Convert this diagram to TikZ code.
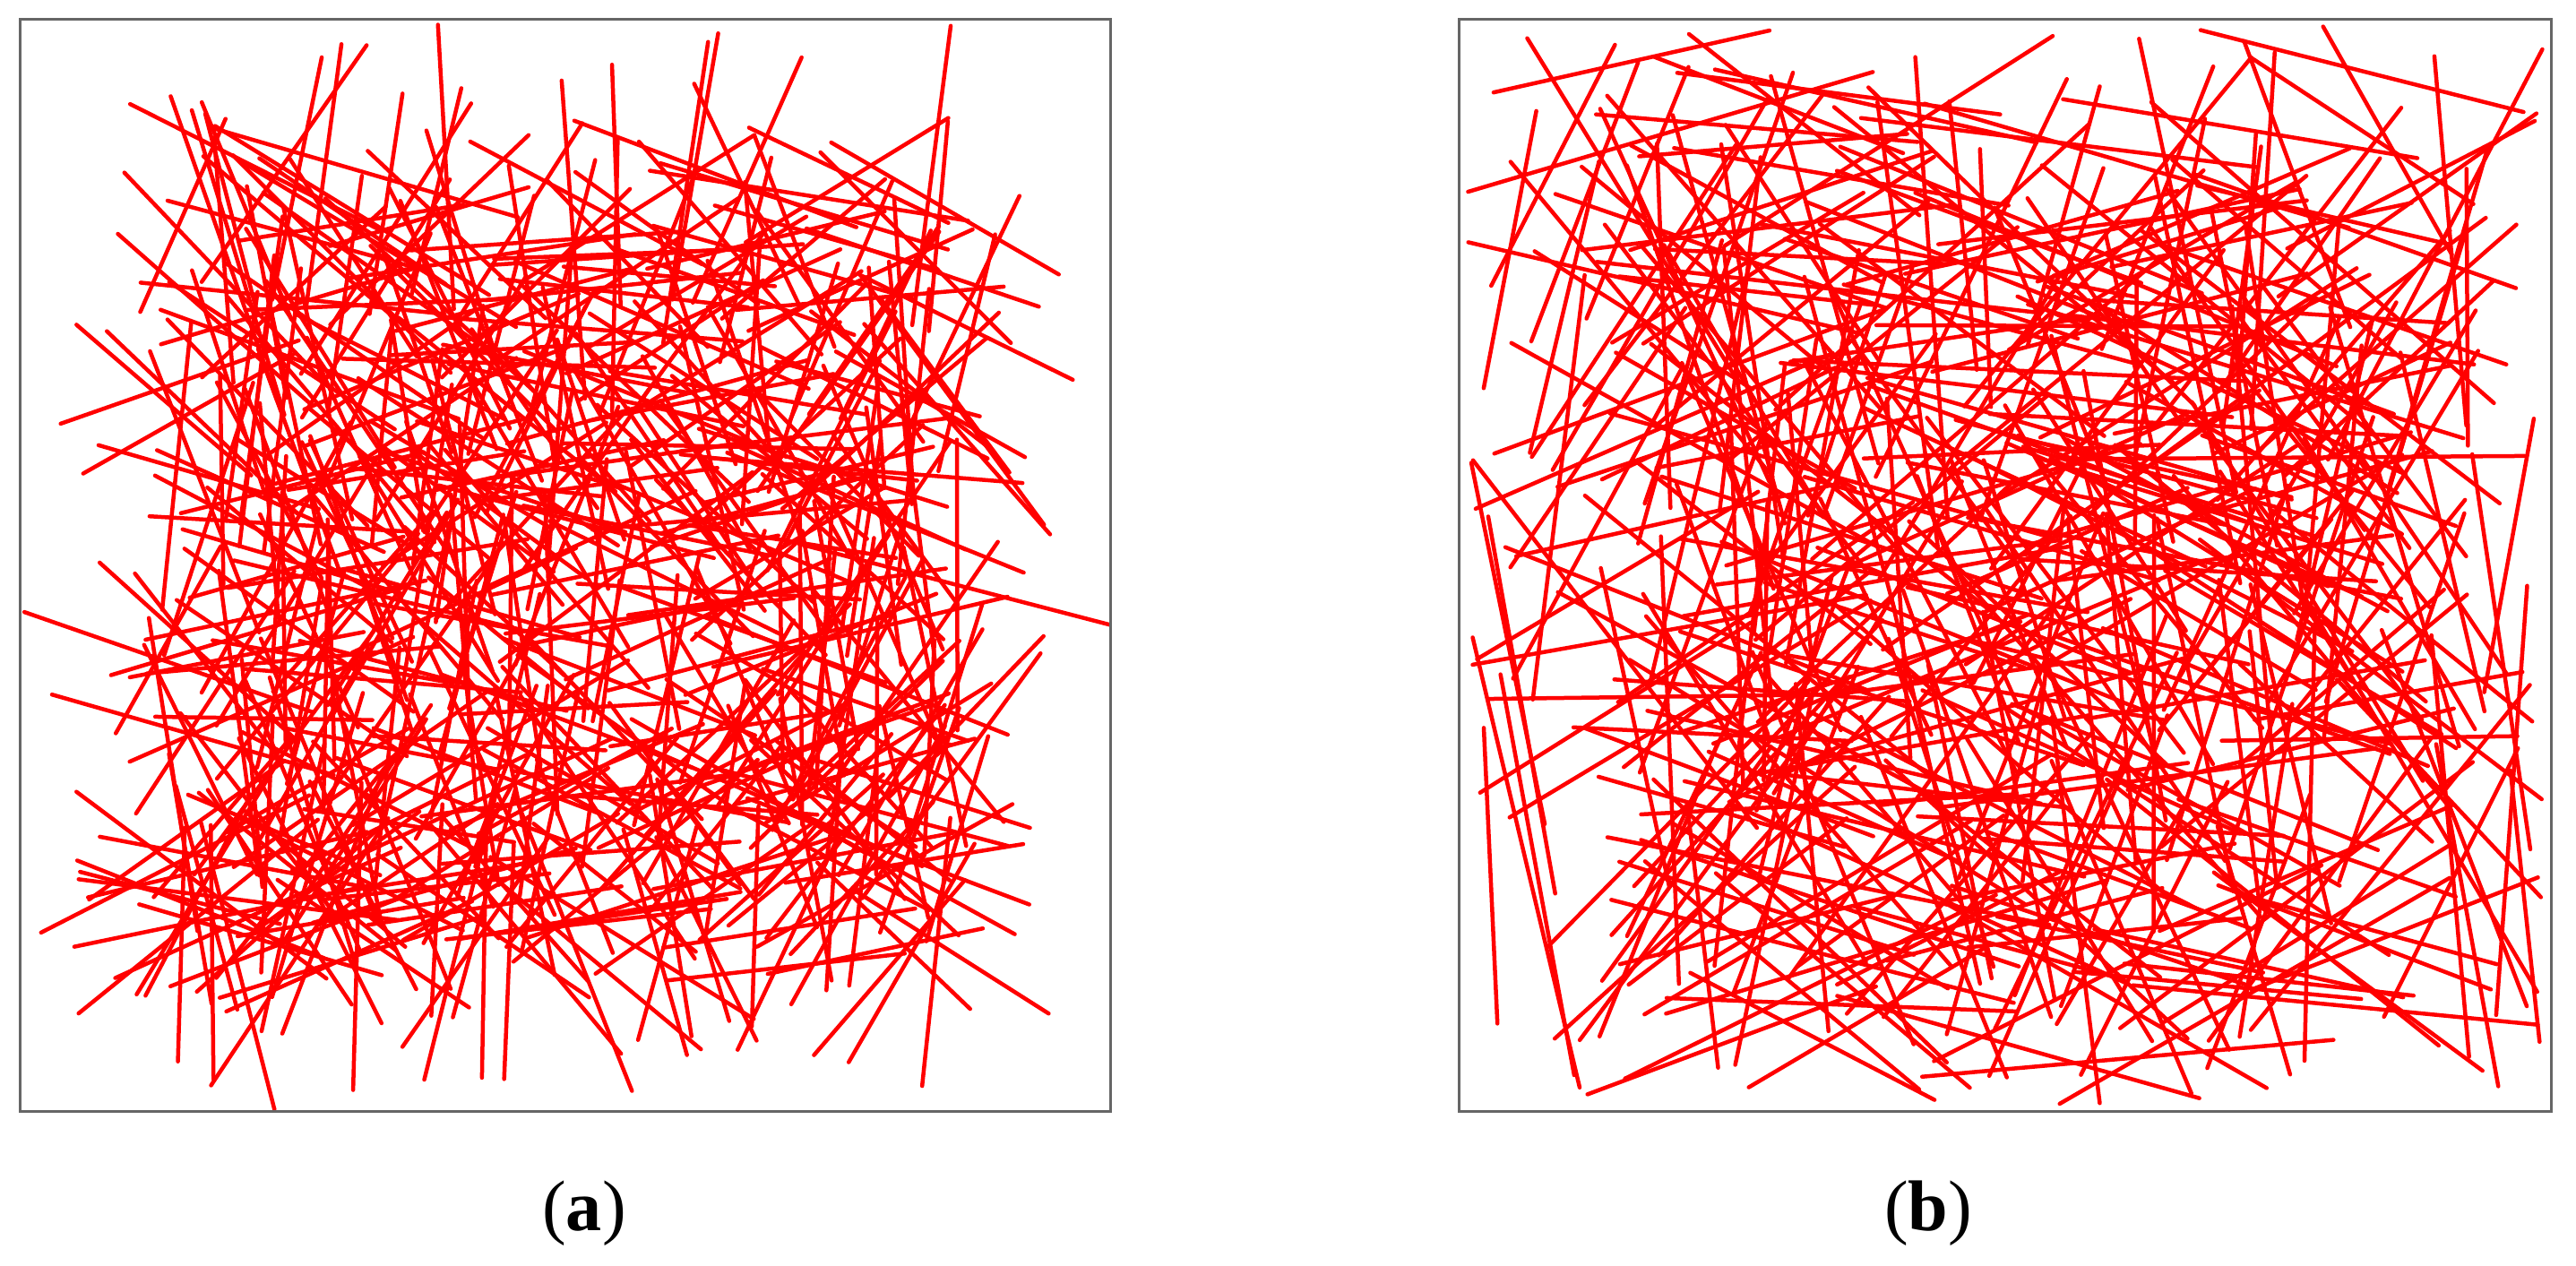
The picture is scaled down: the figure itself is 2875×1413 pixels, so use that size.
\documentclass[tikz,border=0pt]{standalone}
\usepackage{fontspec}
\setmainfont{Liberation Serif}
\begin{document}
\begin{tikzpicture}[x=0.1mm,y=-0.1mm,
  fiber/.style={draw=red, line width=0.45mm, line cap=round},
  frame/.style={draw=black!60, line width=0.3mm},
  capt/.style={font=\fontsize{22.8}{27}\selectfont, anchor=base, inner sep=0pt}]
\useasboundingbox (0,0) rectangle (2875,1413);
\pgfmathsetseed{2024}
% panel (a)
\begin{scope}
\clip (22,21) rectangle (1239,1240);
\foreach \i in {1,...,540}{
  \pgfmathsetmacro{\ang}{rnd*180}
  \pgfmathsetmacro{\len}{230+rnd*130}
  \pgfmathsetmacro{\cx}{180+rnd*900}
  \pgfmathsetmacro{\cy}{180+rnd*900}
  \draw[fiber] ({\cx-0.5*\len*cos(\ang)},{\cy-0.5*\len*sin(\ang)}) -- ({\cx+0.5*\len*cos(\ang)},{\cy+0.5*\len*sin(\ang)});
}
\end{scope}
% panel (b)
\begin{scope}
\clip (1628,21) rectangle (2847,1240);
\foreach \i in {1,...,430}{
  \pgfmathsetmacro{\ang}{rnd*180}
  \pgfmathsetmacro{\len}{280+rnd*240}
  \pgfmathsetmacro{\dx}{0.5*\len*abs(cos(\ang))}
  \pgfmathsetmacro{\dy}{0.5*\len*abs(sin(\ang))}
  \pgfmathsetmacro{\cx}{1636+\dx+rnd*(1203-2*\dx)}
  \pgfmathsetmacro{\cy}{29+\dy+rnd*(1203-2*\dy)}
  \draw[fiber] ({\cx-0.5*\len*cos(\ang)},{\cy-0.5*\len*sin(\ang)}) -- ({\cx+0.5*\len*cos(\ang)},{\cy+0.5*\len*sin(\ang)});
}
\end{scope}
\draw[frame] (22,21) rectangle (1239,1240);
\draw[frame] (1628,21) rectangle (2847,1240);
\node[capt] (la) at (652,1373) {(\textbf{a})};
\node[capt] (lb) at (2152,1373) {(\textbf{b})};
\end{tikzpicture}
\end{document}
